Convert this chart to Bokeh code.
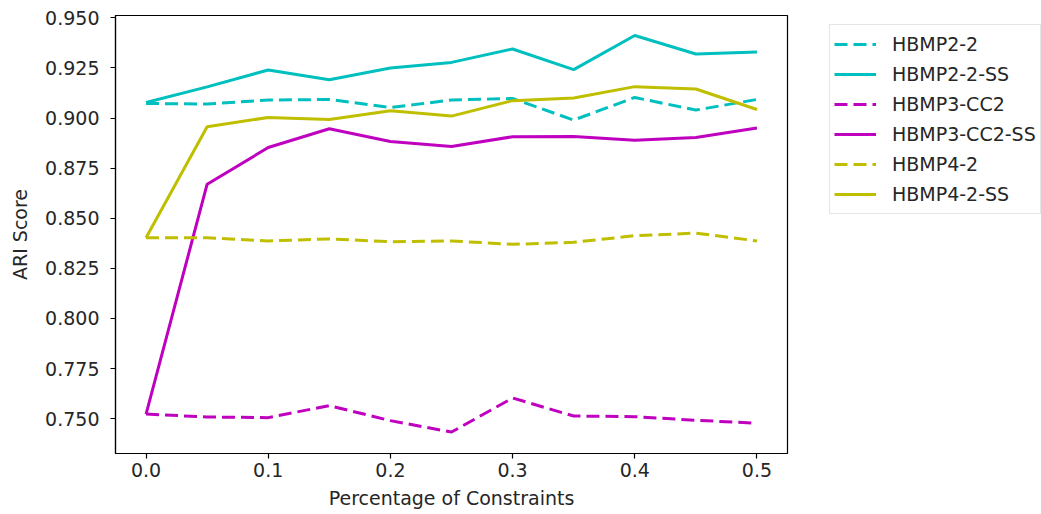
from bokeh.plotting import figure
from bokeh.models import Legend, LegendItem, FixedTicker, NumeralTickFormatter, Range1d
from bokeh.layouts import row
from bokeh.embed import file_html
from bokeh.resources import INLINE

x = [0.0, 0.05, 0.1, 0.15, 0.2, 0.25, 0.3, 0.35, 0.4, 0.45, 0.5]

hbmp2_2 = [0.9073, 0.9070, 0.9090, 0.9093, 0.9053, 0.9090, 0.9098, 0.8990, 0.9103, 0.9040, 0.9093]
hbmp2_2_ss = [0.9078, 0.9156, 0.9240, 0.9191, 0.9250, 0.9278, 0.9345, 0.9242, 0.9412, 0.9320, 0.9330]
hbmp3_cc2 = [0.7523, 0.7508, 0.7505, 0.7565, 0.7490, 0.7433, 0.7603, 0.7513, 0.7510, 0.7492, 0.7477]
hbmp3_cc2_ss = [0.7523, 0.8670, 0.8853, 0.8947, 0.8883, 0.8858, 0.8907, 0.8908, 0.8890, 0.8903, 0.8950]
hbmp4_2 = [0.8403, 0.8403, 0.8387, 0.8397, 0.8383, 0.8387, 0.8370, 0.8380, 0.8413, 0.8426, 0.8387]
hbmp4_2_ss = [0.8403, 0.8957, 0.9003, 0.8993, 0.9037, 0.9010, 0.9087, 0.9100, 0.9157, 0.9145, 0.9043]

series_names = ["HBMP2-2", "HBMP2-2-SS", "HBMP3-CC2", "HBMP3-CC2-SS", "HBMP4-2", "HBMP4-2-SS"]
series_vals = [hbmp2_2, hbmp2_2_ss, hbmp3_cc2, hbmp3_cc2_ss, hbmp4_2, hbmp4_2_ss]
series_colors = ["#00BFBF", "#00BFBF", "#BF00BF", "#BF00BF", "#BFBF00", "#BFBF00"]
series_dash = ["13 6", "solid", "13 6", "solid", "13 6", "solid"]

x_ticks = [0.0, 0.1, 0.2, 0.3, 0.4, 0.5]
y_ticks = [0.750, 0.775, 0.800, 0.825, 0.850, 0.875, 0.900, 0.925, 0.950]

FONT = "DejaVu Sans"

# main plot
p = figure(width=829, height=514, output_backend="svg", toolbar_location=None,
           x_range=Range1d(-0.025, 0.525), y_range=Range1d(0.7326, 0.9512),
           min_border_left=115, min_border_right=42, min_border_top=15, min_border_bottom=61)

p.xgrid.visible = False
p.ygrid.visible = False
p.outline_line_color = "black"
p.outline_line_width = 1.2
p.outline_line_alpha = 1.0

for vals, col, dash in zip(series_vals, series_colors, series_dash):
    p.line(x, vals, line_color=col, line_width=3, line_dash=dash)

for ax in (p.xaxis[0], p.yaxis[0]):
    ax.axis_line_color = "black"
    ax.axis_line_width = 1.2
    ax.major_tick_line_color = "black"
    ax.major_tick_line_width = 1.2
    ax.major_tick_out = 5
    ax.major_tick_in = 0
    ax.minor_tick_line_color = None
    ax.major_label_text_font = FONT
    ax.major_label_text_font_size = "19px"
    ax.major_label_text_color = "#262626"
    ax.axis_label_text_font = FONT
    ax.axis_label_text_font_size = "19px"
    ax.axis_label_text_font_style = "normal"
    ax.axis_label_text_color = "#262626"

p.xaxis[0].ticker = FixedTicker(ticks=x_ticks)
p.xaxis[0].formatter = NumeralTickFormatter(format="0.0")
p.xaxis[0].axis_label = "Percentage of Constraints"
p.xaxis[0].major_label_standoff = 4
p.xaxis[0].axis_label_standoff = 7

p.yaxis[0].ticker = FixedTicker(ticks=y_ticks)
p.yaxis[0].formatter = NumeralTickFormatter(format="0.000")
p.yaxis[0].axis_label = "ARI Score"
p.yaxis[0].major_label_standoff = 11
p.yaxis[0].axis_label_standoff = 11

# legend panel
q = figure(width=212, height=514, output_backend="svg", toolbar_location=None,
           x_range=Range1d(100, 101), y_range=Range1d(100, 101),
           x_axis_location=None, y_axis_location=None,
           min_border_left=0, min_border_right=0, min_border_top=0, min_border_bottom=0)
q.xgrid.visible = False
q.ygrid.visible = False
q.outline_line_color = None

items = []
for name, vals, col, dash in zip(series_names, series_vals, series_colors, series_dash):
    r = q.line(x, vals, line_color=col, line_width=3, line_dash=dash)
    items.append(LegendItem(label=name, renderers=[r]))

legend = Legend(items=items, location=(0, 239))
legend.label_text_font = FONT
legend.label_text_font_size = "19px"
legend.label_text_color = "#262626"
legend.glyph_width = 42
legend.glyph_height = 30
legend.label_height = 30
legend.label_standoff = 16
legend.spacing = 0
legend.padding = 4
legend.margin = 0
legend.border_line_color = "#cccccc"
legend.border_line_width = 1
legend.background_fill_alpha = 1.0
q.add_layout(legend, "center")

layout = row(p, q, spacing=0)
open("out.html", "w").write(file_html(layout, INLINE))
